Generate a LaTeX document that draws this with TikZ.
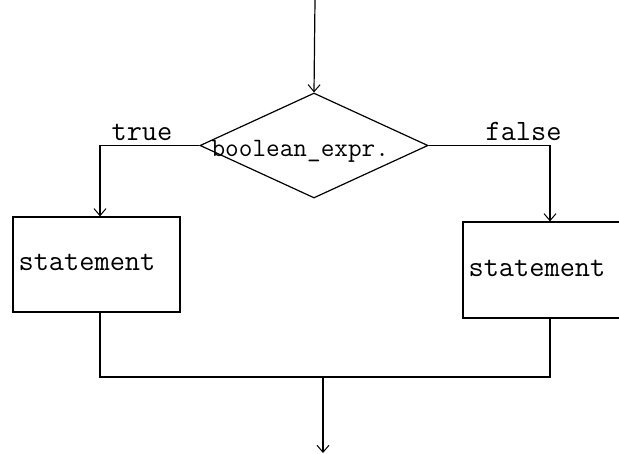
\documentclass[tikz,border=0pt]{standalone}
\usetikzlibrary{shapes.geometric,arrows.meta}
\begin{document}
\begin{tikzpicture}[x=1pt,y=-1pt,
  line width=1.2pt,
  flow/.style={-{Straight Barb[length=7pt,width=12pt,line width=1pt]}},
  txt/.style={font=\ttfamily\fontsize{29.5}{29.5}\selectfont,inner sep=0pt,anchor=base west},
  box/.style={draw,rectangle,inner sep=0pt}]
\useasboundingbox (0,0) rectangle (619,453);
\clip (0,0) rectangle (619,453);
% shapes
\node[draw,diamond,aspect=2.17,inner sep=0pt,minimum width=228pt,minimum height=105pt] (D) at (314,145.5) {};
\node[txt,font=\ttfamily\fontsize{26.5}{26.5}\selectfont] (DT) at (211,156) {boolean\_expr.};
\node[box,minimum width=167pt,minimum height=95pt] (LB) at (96.5,264.5) {};
\node[txt] (LT) at (18,270) {statement};
\node[box,minimum width=174pt,minimum height=96pt] (R) at (550,270) {};
\node[txt] (RT) at (468,276) {statement};
\node[txt] (T) at (111,140) {true};
\node[txt] (F) at (485,140) {false};
% coordinates
\coordinate (top) at (315,0);
\coordinate (M) at (323,377);
\coordinate (bot) at (323,453);
% connectors
\draw[flow] (top) -- (D.north);
\draw[flow] (D.west) -| ([xshift=3.5pt]LB.north);
\draw[flow] (D.east) -| (R.north);
\draw ([xshift=3.5pt]LB.south) |- (M) -| (R.south);
\draw[flow] (M) -- (bot);
\end{tikzpicture}
\end{document}
